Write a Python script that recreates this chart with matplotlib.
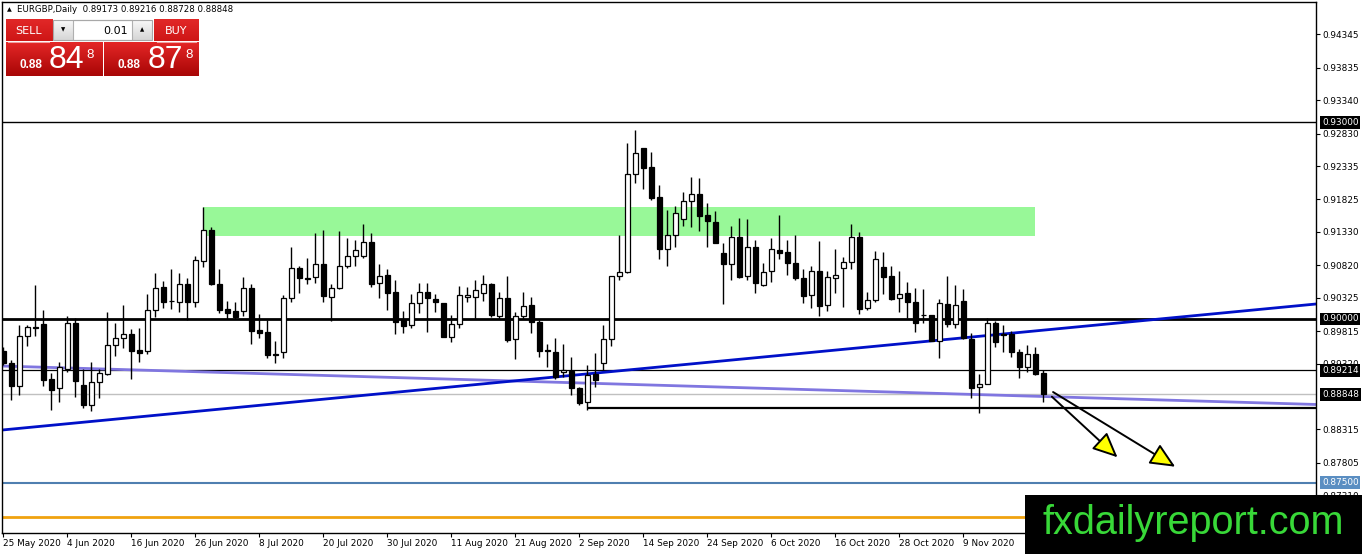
import matplotlib.pyplot as plt
import numpy as np
from matplotlib.patches import Rectangle, FancyArrowPatch

# EURGBP daily candles, 25 May 2020 .. 23 Nov 2020 (one bar per trading day)
opens = [0.89516, 0.89333, 0.88982, 0.89735, 0.89883, 0.89924, 0.89084, 0.88941, 0.89237, 0.89939,
         0.88992, 0.88687, 0.89033, 0.89155, 0.89598, 0.89715, 0.89766, 0.89527, 0.89506, 0.90132,
         0.90483, 0.90280, 0.90265, 0.90529, 0.90265, 0.90885, 0.91354, 0.90529, 0.90148, 0.90122,
         0.90127, 0.90468, 0.89832, 0.89807, 0.89466, 0.89491, 0.90315, 0.90784, 0.90626, 0.90636,
         0.90835, 0.90341, 0.90478, 0.90814, 0.90967, 0.90967, 0.91170, 0.90545, 0.90672, 0.90407,
         0.89985, 0.89908, 0.90239, 0.90407, 0.90300, 0.90249, 0.89730, 0.89918, 0.90341, 0.90341,
         0.90392, 0.90534, 0.90051, 0.90315, 0.89690, 0.90051, 0.90214, 0.89959, 0.89521, 0.89491,
         0.89186, 0.89211, 0.88941, 0.88728, 0.89160, 0.89323, 0.89690, 0.90656, 0.90723, 0.92209,
         0.92605, 0.92316, 0.91857, 0.91064, 0.91282, 0.91522, 0.91801, 0.91908, 0.91588, 0.91476,
         0.91003, 0.90835, 0.91247, 0.90656, 0.91094, 0.90519, 0.90733, 0.91053, 0.91018, 0.90850,
         0.90621, 0.90366, 0.90738, 0.90214, 0.90621, 0.90773, 0.90865, 0.91247, 0.90163, 0.90285,
         0.90794, 0.90651, 0.90315, 0.90392, 0.90254, 0.90066, 0.90061, 0.89669, 0.90229, 0.89919,
         0.90275, 0.89695, 0.88957, 0.89013, 0.89934, 0.89771, 0.89766, 0.89491, 0.89272, 0.89461,
         0.89173]
highs = [0.89578, 0.89374, 0.89908, 0.89908, 0.90519, 0.90137, 0.89171, 0.89338, 0.90046, 0.90010,
         0.89237, 0.89338, 0.89237, 0.90112, 0.89934, 0.90214, 0.89847, 0.89857, 0.90382, 0.90697,
         0.90580, 0.90763, 0.90697, 0.90621, 0.90967, 0.91715, 0.91410, 0.90763, 0.90275, 0.90254,
         0.90636, 0.90529, 0.90076, 0.89985, 0.89664, 0.90366, 0.91104, 0.90809, 0.90936, 0.91318,
         0.91359, 0.90529, 0.91343, 0.91242, 0.91206, 0.91450, 0.91308, 0.90840, 0.90763, 0.90595,
         0.90122, 0.90377, 0.90545, 0.90544, 0.90382, 0.90249, 0.90061, 0.90504, 0.90483, 0.90595,
         0.90672, 0.90555, 0.90417, 0.90656, 0.90112, 0.90407, 0.90331, 0.89985, 0.89618, 0.89705,
         0.89618, 0.89415, 0.88967, 0.89298, 0.89476, 0.89908, 0.90656, 0.91282, 0.92682, 0.92885,
         0.92605, 0.92555, 0.92041, 0.91664, 0.91725, 0.91944, 0.92163, 0.92147, 0.91776, 0.91649,
         0.91155, 0.91420, 0.91537, 0.91522, 0.91206, 0.90860, 0.91232, 0.91588, 0.91206, 0.91277,
         0.90758, 0.90814, 0.91191, 0.90738, 0.91064, 0.90952, 0.91450, 0.91323, 0.90417, 0.91038,
         0.91018, 0.90809, 0.90733, 0.90560, 0.90478, 0.90453, 0.90061, 0.90300, 0.90662, 0.90519,
         0.90453, 0.89791, 0.89155, 0.90010, 0.89969, 0.89908, 0.89817, 0.89542, 0.89603, 0.89578,
         0.89216]
lows = [0.89298, 0.88763, 0.88840, 0.89593, 0.89746, 0.88982, 0.88611, 0.88738, 0.89196, 0.88814,
        0.88636, 0.88600, 0.88789, 0.89145, 0.89440, 0.89562, 0.89079, 0.89338, 0.89461, 0.90036,
        0.90163, 0.90153, 0.90112, 0.89985, 0.90188, 0.90799, 0.90519, 0.90086, 0.90000, 0.90000,
        0.90051, 0.89618, 0.89715, 0.89410, 0.89333, 0.89410, 0.90265, 0.90402, 0.90529, 0.90545,
        0.90265, 0.89969, 0.90458, 0.90774, 0.90814, 0.90936, 0.90494, 0.90315, 0.90137, 0.89766,
        0.89781, 0.89868, 0.90086, 0.89807, 0.90112, 0.89720, 0.89654, 0.89857, 0.90265, 0.89995,
        0.90280, 0.90036, 0.89995, 0.89654, 0.89389, 0.89995, 0.89791, 0.89425, 0.89262, 0.89084,
        0.89120, 0.88840, 0.88687, 0.88611, 0.88967, 0.89221, 0.89588, 0.90595, 0.90707, 0.92071,
        0.91980, 0.91817, 0.90911, 0.90809, 0.91104, 0.91420, 0.91410, 0.91344, 0.91094, 0.91155,
        0.90229, 0.90595, 0.90631, 0.90595, 0.90402, 0.90504, 0.90570, 0.90911, 0.90672, 0.90595,
        0.90239, 0.90163, 0.90046, 0.90127, 0.90402, 0.90188, 0.90763, 0.90071, 0.90137, 0.90254,
        0.90377, 0.90290, 0.90112, 0.90020, 0.89796, 0.89934, 0.89664, 0.89410, 0.89883, 0.89857,
        0.89695, 0.88799, 0.88560, 0.89003, 0.89578, 0.89501, 0.89425, 0.89104, 0.89196, 0.89145,
        0.88728]
closes = [0.89333, 0.88982, 0.89735, 0.89873, 0.89868, 0.89074, 0.88921, 0.89262, 0.89934, 0.89058,
          0.88687, 0.89033, 0.89171, 0.89598, 0.89705, 0.89766, 0.89516, 0.89486, 0.90132, 0.90468,
          0.90254, 0.90270, 0.90529, 0.90265, 0.90896, 0.91354, 0.90529, 0.90137, 0.90097, 0.90036,
          0.90468, 0.89822, 0.89791, 0.89450, 0.89456, 0.90315, 0.90774, 0.90621, 0.90616, 0.90835,
          0.90356, 0.90478, 0.90809, 0.90967, 0.91048, 0.91170, 0.90529, 0.90662, 0.90402, 0.89959,
          0.89898, 0.90239, 0.90407, 0.90315, 0.90265, 0.89730, 0.89918, 0.90366, 0.90366, 0.90443,
          0.90534, 0.90061, 0.90315, 0.89679, 0.90051, 0.90198, 0.89949, 0.89516, 0.89511, 0.89109,
          0.89221, 0.88941, 0.88712, 0.89145, 0.89069, 0.89690, 0.90656, 0.90723, 0.92209, 0.92529,
          0.92300, 0.91852, 0.91064, 0.91282, 0.91613, 0.91801, 0.91903, 0.91578, 0.91496, 0.91165,
          0.90835, 0.91247, 0.90646, 0.91094, 0.90544, 0.90723, 0.91064, 0.91013, 0.90850, 0.90621,
          0.90356, 0.90738, 0.90204, 0.90636, 0.90667, 0.90865, 0.91247, 0.90153, 0.90285, 0.90911,
          0.90646, 0.90305, 0.90387, 0.90254, 0.89934, 0.90056, 0.89669, 0.90239, 0.89919, 0.90214,
          0.89715, 0.88952, 0.89013, 0.89934, 0.89654, 0.89761, 0.89491, 0.89272, 0.89461, 0.89155,
          0.88848]

date_idx = [0, 8, 16, 24, 32, 40, 48, 56, 64, 72, 80, 88, 96, 104, 112, 120]
date_labels = ['25 May 2020', '4 Jun 2020', '16 Jun 2020', '26 Jun 2020', '8 Jul 2020',
               '20 Jul 2020', '30 Jul 2020', '11 Aug 2020', '21 Aug 2020', '2 Sep 2020',
               '14 Sep 2020', '24 Sep 2020', '6 Oct 2020', '16 Oct 2020', '28 Oct 2020',
               '9 Nov 2020']
price_ticks = [0.94345, 0.93835, 0.93340, 0.92830, 0.92335, 0.91825, 0.91330, 0.90820,
               0.90325, 0.89815, 0.89320, 0.88315, 0.87805, 0.87310]

# drawn objects on the chart
level_30 = 0.93000
level_90 = 0.90000
level_high = 0.89214
bid = 0.88848
support = 0.88636
support_from = 73
level_875 = 0.87500
level_orange = 0.86977
zone = (25, 129, 0.91267, 0.91710)
blue_tl_x = [-0.16, 164.06]
blue_tl_y = [0.88305, 0.90229]
purple_tl_x = [-0.16, 164.06]
purple_tl_y = [0.89282, 0.88695]
arrows = [((131.05, 0.88814), (139.25, 0.87889)),
          ((131.2, 0.88885), (146.46, 0.87745))]

W, H = 1362, 554
fig = plt.figure(figsize=(W / 100, H / 100), dpi=100)
ax = fig.add_axes([2 / W, 21 / H, 1314 / W, 531 / H])
ax.set_xlim(-0.16, 164.06)
ax.set_ylim(0.867328, 0.948397)

fs = 6.4
ax.yaxis.tick_right()
ax.set_yticks(price_ticks)
ax.set_yticklabels(['%.5f' % p for p in price_ticks], fontsize=fs)
ax.set_xticks(date_idx)
ax.set_xticklabels(date_labels, fontsize=fs, ha='left')
ax.tick_params(axis='both', length=3, width=0.8, pad=1.5, colors='black')
for s in ax.spines.values():
    s.set_linewidth(1)

# support / resistance zone
ax.add_patch(Rectangle((zone[0], zone[2]), zone[1] - zone[0], zone[3] - zone[2],
                       facecolor='#98f898', edgecolor='none', zorder=1))

# horizontal levels
ax.axhline(level_30, color='black', lw=1, zorder=2)
ax.axhline(level_90, color='black', lw=2, zorder=2)
ax.axhline(level_high, color='black', lw=0.9, zorder=2)
ax.axhline(bid, color='#c0c0c0', lw=1, zorder=2)
ax.hlines(support, support_from, 164.06, color='black', lw=1.6, zorder=2)
ax.axhline(level_875, color='#4f7fb0', lw=1.5, zorder=2)
ax.axhline(level_orange, color='#f0a20f', lw=2, zorder=2)

# trend lines
ax.plot(purple_tl_x, purple_tl_y, color='#8076e0', lw=2, zorder=2.2)
ax.plot(blue_tl_x, blue_tl_y, color='#0010c8', lw=2, zorder=2.3)

# candles
o = np.array(opens)
c = np.array(closes)
x = np.arange(len(o))
ax.vlines(x, lows, highs, color='black', lw=1, zorder=3)
up = c >= o
ax.bar(x, c - o, bottom=o, width=0.6, color=np.where(up, 'white', 'black'),
       edgecolor='black', linewidth=0.9, zorder=4)

# forecast arrows
for (x0, y0), (x1, y1) in arrows:
    ax.add_patch(FancyArrowPatch((x0, y0), (x1, y1),
                                 arrowstyle='-|>,head_length=1.1,head_width=0.5',
                                 mutation_scale=14, fc='#ffff00', ec='black', lw=1.4,
                                 zorder=6, shrinkA=0, shrinkB=0))

# highlighted price labels
ytr = ax.get_yaxis_transform()
for val, bg in [(level_30, 'black'), (level_90, 'black'), (level_high, 'black'),
                (bid, 'black'), (level_875, '#5a8ec2')]:
    ax.text(1.0045, val, '%.5f' % val, transform=ytr, ha='left', va='center',
            fontsize=fs, color='white', zorder=8,
            bbox=dict(boxstyle='square,pad=0.22', fc=bg, ec='none'))

# overlay in pixel coordinates
ov = fig.add_axes([0, 0, 1, 1], zorder=10)
ov.set_xlim(0, W)
ov.set_ylim(H, 0)
ov.axis('off')


def grad_rect(x0, y0, x1, y1, top, bottom):
    t = np.array(top) / 255.0
    b = np.array(bottom) / 255.0
    g = np.linspace(0, 1, 40)[:, None, None]
    img = t * (1 - g) + b * g
    ov.imshow(img, extent=(x0, x1, y1, y0), aspect='auto', interpolation='bilinear', zorder=1)


ov.text(7, 10, '\u25b2', fontsize=4.5, va='center', ha='left')
ov.text(17, 10, 'EURGBP,Daily  0.89173 0.89216 0.88728 0.88848', fontsize=6.2,
        va='center', ha='left')

# one-click trading panel
grad_rect(5.5, 20, 52, 41.5, (226, 40, 40), (206, 22, 22))
grad_rect(154, 20, 199, 41.5, (226, 40, 40), (206, 22, 22))
grad_rect(5.5, 42, 102, 76, (228, 38, 38), (168, 6, 6))
grad_rect(104, 42, 199, 76, (228, 38, 38), (168, 6, 6))
ov.plot([8, 49], [41.5, 41.5], color='#f2a0a0', lw=0.8, zorder=2)
ov.plot([157, 196], [41.5, 41.5], color='#f2a0a0', lw=0.8, zorder=2)
grad_rect(53, 20, 73, 40, (248, 248, 248), (214, 214, 214))
grad_rect(132, 20, 152, 40, (248, 248, 248), (214, 214, 214))
ov.add_patch(Rectangle((73, 20), 59, 20, fc='white', ec='#b0b0b0', lw=0.8, zorder=2))
ov.add_patch(Rectangle((53, 20), 99, 20, fc='none', ec='#a8a8a8', lw=0.8, zorder=3))
ov.text(63, 30, '\u25bc', fontsize=4, ha='center', va='center', zorder=4)
ov.text(142, 30, '\u25b2', fontsize=4, ha='center', va='center', zorder=4)
ov.text(128, 30.5, '0.01', fontsize=8, ha='right', va='center', zorder=4)
ov.text(28.5, 31, 'SELL', fontsize=8, color='white', ha='center', va='center', zorder=4)
ov.text(176.5, 31, 'BUY', fontsize=8, color='white', ha='center', va='center', zorder=4)
for x0, big in [(19, '84'), (118, '87')]:
    ov.text(x0, 68.5, '0.88', fontsize=8.5, fontweight='bold', color='white',
            family='Liberation Sans', va='baseline', zorder=4)
    ov.text(x0 + 29.5, 68.5, big, fontsize=23, color='white', family='Liberation Sans',
            va='baseline', zorder=4)
    ov.text(x0 + 67, 57.5, '8', fontsize=9.5, color='white', family='Liberation Sans',
            va='baseline', zorder=4)

# watermark
ov.add_patch(Rectangle((1025, 495), W - 1025, H - 495, fc='black', ec='none', zorder=5))
ov.text(1193, 523, 'fxdailyreport.com', fontsize=28.5, color='#38d838',
        family='Liberation Sans', ha='center', va='center', zorder=6)

fig.savefig('out.png', dpi=100)
